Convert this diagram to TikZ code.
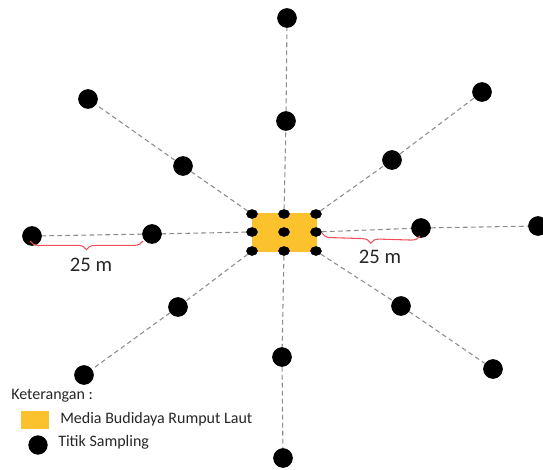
\documentclass[tikz,border=0pt]{standalone}
\usepackage{fontspec}
\setmainfont{Carlito}
\usetikzlibrary{shapes.geometric,decorations.pathreplacing}
\definecolor{farmorange}{HTML}{FBC22D}
\definecolor{linkgray}{HTML}{8C8C8C}
\definecolor{bracered}{HTML}{F0505A}
\tikzset{
  bigdot/.style={circle,fill=black,inner sep=0pt,minimum size=14.5pt},
  smalldot/.style={ellipse,fill=black,inner sep=0pt,minimum width=8.5pt,minimum height=7pt},
  link/.style={draw=linkgray,line width=0.8pt,dash pattern=on 3.5pt off 2.5pt},
  measure/.style={draw=bracered,line width=0.8pt,decorate,decoration={brace,mirror,amplitude=6.5pt}},
  label/.style={font=\fontsize{15.5}{18}\selectfont,text=black!85},
  legend/.style={font=\fontsize{12}{14}\selectfont,text=black!85,anchor=west,inner sep=0pt}
}
\begin{document}
\begin{tikzpicture}[x=0.75pt,y=-0.75pt]
\useasboundingbox (0,0) rectangle (543,469);

% seaweed cultivation frame
\fill[farmorange] (252,213) rectangle (317,252);

% sampling points inside the frame
\node[smalldot] (c1) at (252,214) {};
\node[smalldot] (c2) at (284,214) {};
\node[smalldot] (c3) at (316,214) {};
\node[smalldot] (c4) at (252,232) {};
\node[smalldot] (c5) at (284,232) {};
\node[smalldot] (c6) at (316,232) {};
\node[smalldot] (c7) at (252,251) {};
\node[smalldot] (c8) at (284,251) {};
\node[smalldot] (c9) at (316,251) {};

% outer sampling points
\node[bigdot] (n1) at (287,18) {};
\node[bigdot] (n2) at (286,121) {};
\node[bigdot] (nw1) at (88,99) {};
\node[bigdot] (nw2) at (183,166) {};
\node[bigdot] (ne1) at (482,92) {};
\node[bigdot] (ne2) at (392,160) {};
\node[bigdot] (w1) at (32,236) {};
\node[bigdot] (w2) at (152,234) {};
\node[bigdot] (e2) at (421,228) {};
\node[bigdot] (e1) at (538,226) {};
\node[bigdot] (sw2) at (178,307) {};
\node[bigdot] (sw1) at (84,375) {};
\node[bigdot] (se2) at (401,306) {};
\node[bigdot] (se1) at (493,369) {};
\node[bigdot] (s2) at (282,357) {};
\node[bigdot] (s1) at (283,458) {};

% transect lines
\draw[link] (c2) -- (n2) -- (n1);
\draw[link] (c1) -- (nw2) -- (nw1);
\draw[link] (c3) -- (ne2) -- (ne1);
\draw[link] (c4) -- (w2) -- (w1);
\draw[link] (c6) -- (e2) -- (e1);
\draw[link] (c7) -- (sw2) -- (sw1);
\draw[link] (c9) -- (se2) -- (se1);
\draw[link] (c8) -- (s2) -- (s1);

% redraw dots over the lines
\foreach \d in {c1,c2,c3,c4,c5,c6,c7,c8,c9}{\fill[black] (\d.center) ellipse (4.25pt and 3.5pt);}
\foreach \d in {n1,n2,nw1,nw2,ne1,ne2,w1,w2,e1,e2,sw1,sw2,se1,se2,s1,s2}{\fill[black] (\d.center) circle (7.25pt);}

% distance braces
\coordinate (bl1) at (30,241);
\coordinate (bl2) at (143,241);
\coordinate (br1) at (322,233);
\coordinate (br2) at (420,236);
\draw[measure] (bl1) -- (bl2);
\draw[measure] (br1) -- (br2);
\node[label] (d1) at (91,265) {25 m};
\node[label] (d2) at (380,257) {25 m};

% legend
\node[legend] (lt) at (11,396) {Keterangan :};
\fill[farmorange] (21,411) rectangle (49,429);
\node[legend] (lm) at (60,419) {Media Budidaya Rumput Laut};
\node[bigdot] (ld) at (38,445) {};
\node[legend] (ls) at (58,442) {Titik Sampling};
\end{tikzpicture}
\end{document}
